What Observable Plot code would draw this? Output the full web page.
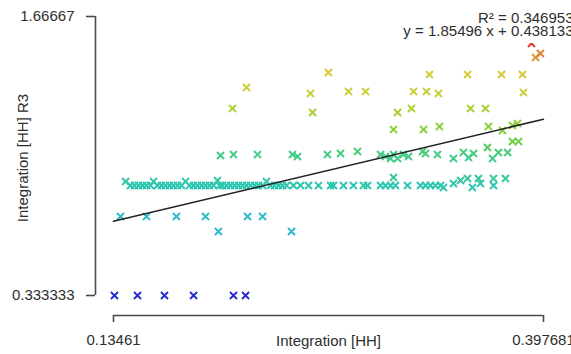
<!DOCTYPE html>
<html>
<head>
<meta charset="utf-8">
<script src="https://cdn.jsdelivr.net/npm/d3@7"></script>
<script src="https://cdn.jsdelivr.net/npm/@observablehq/plot@0.6"></script>
<style>
  html, body { margin: 0; padding: 0; background: #fff; }
  #chart { width: 571px; height: 354px; overflow: hidden; }
</style>
</head>
<body>
<div id="chart"></div>
<script>
// ---- tick values / labels ----
const xTicks = [0.13461, 0.397681];
const yTicks = [0.333333, 1.66667];
const xTickLabels = ["0.13461", "0.397681"];
const yTickLabels = ["0.333333", "1.66667"];
const xLabel = "Integration [HH]";
const yLabel = "Integration [HH] R3";
const fitLabels = ["R\u00B2 = 0.346953", "y = 1.85496 x + 0.438133"];
const fitCoefficients = [1.85496, 0.438133]; // slope, intercept

// ---- series: Integration [HH] (x) ----
const hh = [
  0.1352, 0.1493, 0.1658, 0.1836, 0.2080, 0.2154,
  0.1988, 0.2435,
  0.1389, 0.1548, 0.1731, 0.1909, 0.2166, 0.2258,
  0.1420, 0.1450, 0.1475, 0.1499, 0.1524, 0.1548, 0.1572, 0.1591, 0.1615, 0.1640,
  0.1664, 0.1689, 0.1713, 0.1738, 0.1762, 0.1787, 0.1811, 0.1836, 0.1860, 0.1885,
  0.1909, 0.1933, 0.1958, 0.1982, 0.1995, 0.2013, 0.2037, 0.2062, 0.2086, 0.2111,
  0.2135, 0.2160, 0.2184, 0.2209, 0.2233, 0.2258, 0.2282, 0.2307, 0.2331, 0.2356,
  0.2380, 0.2405, 0.2447, 0.2490, 0.2539, 0.2600, 0.2674,
  0.2692, 0.2753, 0.2814, 0.2876, 0.2900, 0.2980, 0.3010, 0.3041, 0.3059, 0.3071,
  0.3145, 0.3224, 0.3255, 0.3285, 0.3316, 0.3347, 0.3365, 0.3426, 0.3469, 0.3512,
  0.3542, 0.3579, 0.3591, 0.3671, 0.3671, 0.3744,
  0.2001, 0.2080, 0.2227, 0.2441, 0.2472, 0.2655, 0.2735, 0.2839, 0.2980, 0.3010,
  0.3041, 0.3059, 0.3084, 0.3120, 0.3151, 0.3237, 0.3255, 0.3328, 0.3426, 0.3487,
  0.3518, 0.3549, 0.3634, 0.3665, 0.3701, 0.3757,
  0.3059, 0.3243, 0.3340, 0.3640, 0.3726, 0.3787, 0.3818, 0.3787, 0.3824,
  0.3084, 0.3169, 0.3530, 0.3622, 0.2074, 0.2564,
  0.2784, 0.2888, 0.3182, 0.3261, 0.3334, 0.3854, 0.2160, 0.2551,
  0.2661, 0.3279, 0.3512, 0.3720, 0.3848,
  0.3928, 0.3958, 0.3903
];

// ---- series: Integration [HH] R3 (y) ----
const r3 = [
  0.3333, 0.3333, 0.3333, 0.3333, 0.3333, 0.3333,
  0.6392, 0.6392,
  0.7109, 0.7109, 0.7109, 0.7109, 0.7109, 0.7109,
  0.8781, 0.8590, 0.8590, 0.8590, 0.8590, 0.8590, 0.8590, 0.8781, 0.8590, 0.8590,
  0.8590, 0.8590, 0.8590, 0.8590, 0.8590, 0.8781, 0.8590, 0.8590, 0.8590, 0.8590,
  0.8590, 0.8590, 0.8590, 0.8829, 0.8590, 0.8590, 0.8590, 0.8590, 0.8590, 0.8590,
  0.8590, 0.8590, 0.8590, 0.8590, 0.8590, 0.8590, 0.8781, 0.8590, 0.8590, 0.8590,
  0.8590, 0.8590, 0.8590, 0.8590, 0.8590, 0.8590, 0.8590,
  0.8590, 0.8590, 0.8590, 0.8590, 0.8590, 0.8590, 0.8590, 0.8590, 0.8972, 0.8590,
  0.8590, 0.8590, 0.8590, 0.8590, 0.8590, 0.8590, 0.8495, 0.8686, 0.8829, 0.8925,
  0.8495, 0.8925, 0.8686, 0.8925, 0.8590, 0.8925,
  1.0024, 1.0071, 1.0071, 1.0071, 0.9976, 1.0071, 1.0119, 1.0215, 1.0071, 0.9976,
  0.9880, 1.0071, 0.9880, 1.0071, 0.9976, 1.0215, 1.0119, 1.0071, 0.9880, 1.0167,
  0.9928, 1.0119, 1.0406, 0.9880, 1.0167, 1.0167,
  1.1267, 1.1267, 1.1410, 1.1410, 1.1219, 1.1458, 1.1553, 1.0693, 1.0693,
  1.2079, 1.2270, 1.2270, 1.2270, 1.2270, 1.2079,
  1.3083, 1.3083, 1.3083, 1.3083, 1.2987, 1.3035, 1.3274, 1.2987,
  1.3991, 1.3895, 1.3895, 1.3895, 1.3895,
  1.4707, 1.4898, 1.5376
];

// ---- colour ramp (value stops -> colours) ----
const colorStops = [0.333, 0.64, 0.71, 0.86, 0.89, 1.0, 1.04, 1.07, 1.14, 1.22, 1.30, 1.40, 1.48, 1.54];
const colorRange = ["#2a2ad2", "#2cb8cc", "#2cbcc6", "#2ec6b0", "#38c89c", "#40cc88", "#58cc60",
                    "#70d048", "#8cd038", "#a8d032", "#c4d03a", "#d6ca32", "#e09038", "#e03a2a"];

const points = hh.map((x, i) => ({hh: x, r3: r3[i]}));
const [slope, intercept] = fitCoefficients;
const fitLine = xTicks.map(x => ({hh: x, r3: slope * x + intercept}));

const axisColor = "#4a4a4a";
const textColor = "#2e2e2e";

const chart = Plot.plot({
  width: 571,
  height: 354,
  marginLeft: 95,
  marginRight: 28,
  marginTop: 16,
  marginBottom: 39,
  x: {domain: xTicks, insetLeft: 18},
  y: {domain: yTicks, insetBottom: 20},
  color: {type: "linear", domain: colorStops, range: colorRange},
  style: {fontFamily: "'Liberation Sans', Arial, sans-serif", fontSize: "15px", color: textColor, background: "white"},
  marks: [
    Plot.ruleX([xTicks[0]], {y1: yTicks[0], y2: yTicks[1], dx: -18, stroke: axisColor, strokeWidth: 1.6}),
    Plot.ruleY([yTicks[0]], {x1: xTicks[0], x2: xTicks[1], dy: 20, stroke: axisColor, strokeWidth: 1.6}),
    Plot.axisX({ticks: xTicks, tickSize: 7, tickPadding: 12, label: null, stroke: axisColor, strokeWidth: 1.6,
                tickFormat: d => xTickLabels[xTicks.indexOf(d)]}),
    Plot.axisY({ticks: yTicks, tickSize: 9, tickPadding: 12, label: null, stroke: axisColor, strokeWidth: 1.6,
                tickFormat: d => yTickLabels[yTicks.indexOf(d)]}),
    Plot.dot(points, {x: "hh", y: "r3", stroke: "r3", symbol: "times", r: 3.3, strokeWidth: 1.9}),
    Plot.line(fitLine, {x: "hh", y: "r3", stroke: "#222", strokeWidth: 1.5}),
    Plot.text([fitLabels[1]], {frameAnchor: "top-right", textAnchor: "end", lineAnchor: "bottom", dx: 30, dy: 19,
                fill: textColor, stroke: "white", strokeWidth: 14, strokeLinejoin: "miter", paintOrder: "stroke"}),
    Plot.text([fitLabels[0]], {frameAnchor: "top-right", textAnchor: "end", lineAnchor: "bottom", dx: 30, dy: 6,
                fill: textColor, stroke: "white", strokeWidth: 4, paintOrder: "stroke"}),
    Plot.text([xLabel], {frameAnchor: "bottom", lineAnchor: "top", dx: 9, dy: 20, fill: textColor}),
    Plot.text([yLabel], {frameAnchor: "left", rotate: -90, textAnchor: "middle", lineAnchor: "middle", dx: -72, dy: -8, fill: textColor})
  ]
});

document.getElementById("chart").appendChild(chart);
</script>
</body>
</html>
